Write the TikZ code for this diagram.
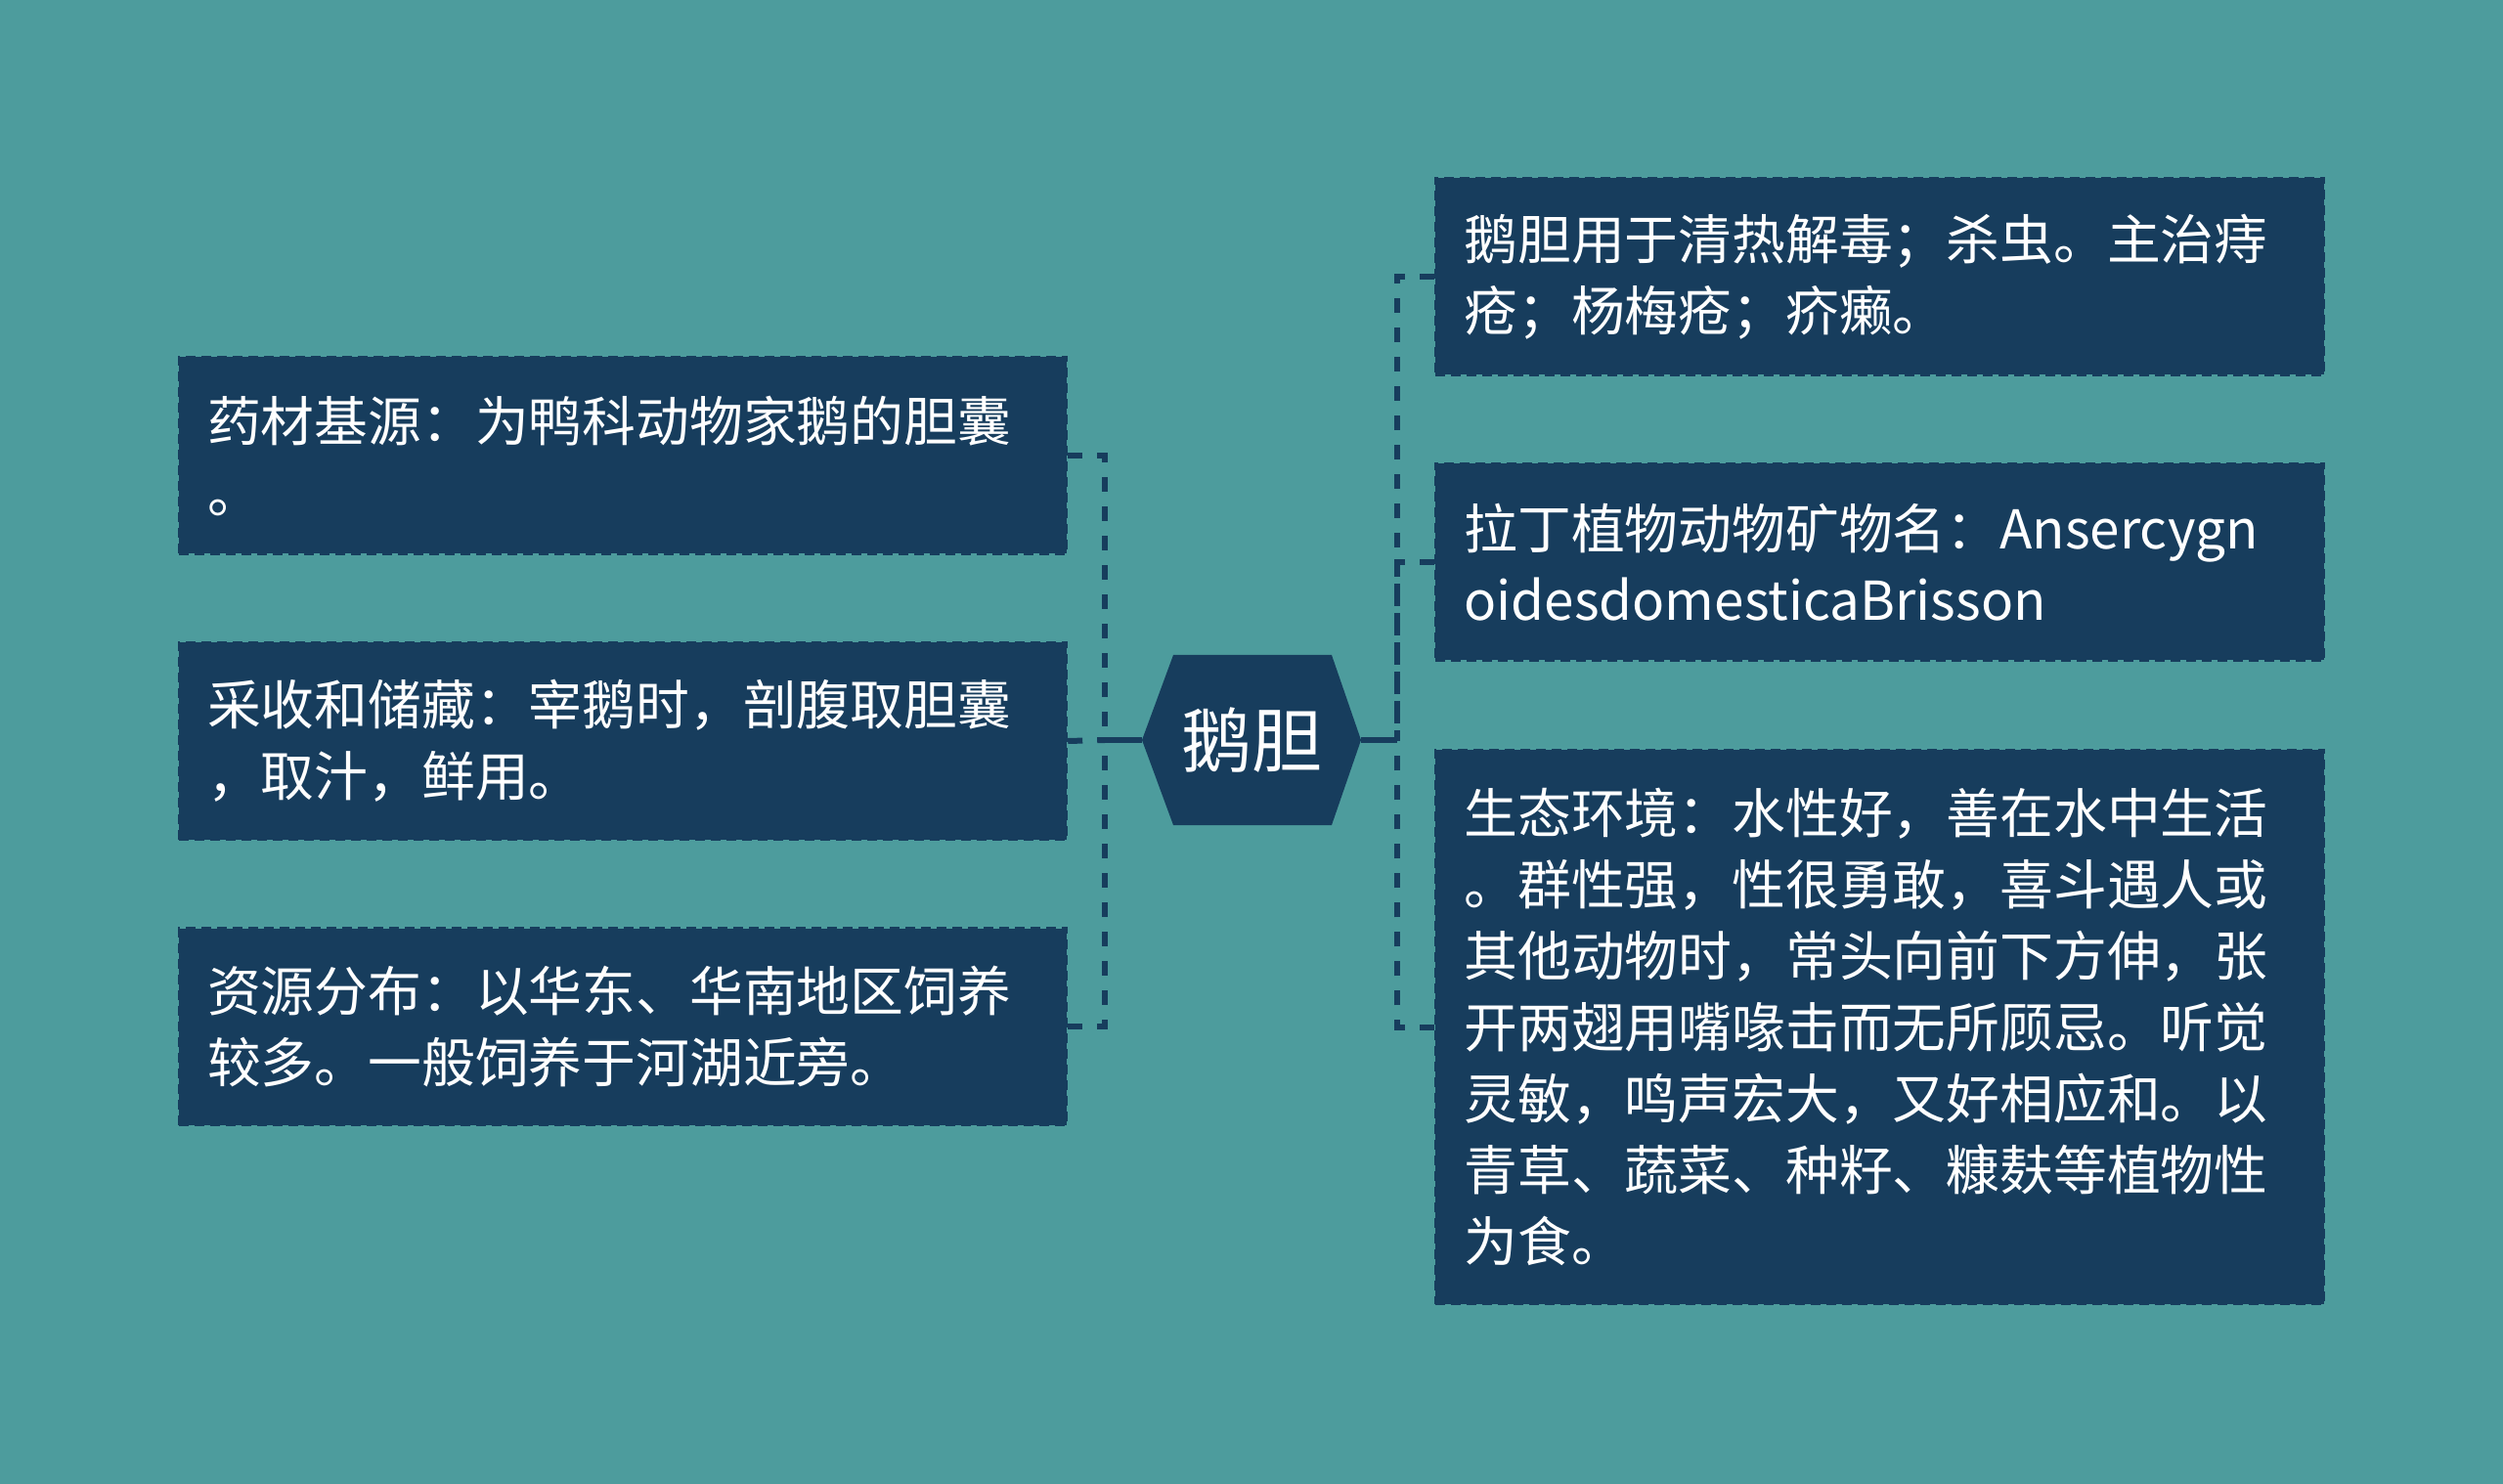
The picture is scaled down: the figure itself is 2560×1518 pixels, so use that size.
\documentclass[tikz,border=0pt]{standalone}
\usepackage{fontspec}
\setmainfont{Noto Sans CJK SC}
\definecolor{bgc}{RGB}{77,156,157}
\definecolor{boxc}{RGB}{23,61,93}
\begin{document}
\begin{tikzpicture}[x=0.5pt,y=-0.5pt,
  infobox/.style={rectangle, fill=boxc, draw=boxc, dashed, dash pattern=on 5pt off 3pt, line width=1.2pt,
    text=white, align=left, text width=425pt, inner xsep=14pt, inner ysep=0pt,
    font=\fontsize{27.4pt}{36.5pt}\selectfont},
  conn/.style={draw=boxc, line width=3pt, dash pattern=on 7.5pt off 7.5pt},
  solidconn/.style={draw=boxc, line width=3pt}]
\useasboundingbox[fill=bgc] (0,0) rectangle (2560,1518);
% center hexagon
\coordinate (hc) at (1280,757);
\fill[boxc] (1168,757) -- (1200,670) -- (1362,670) -- (1392,757) -- (1362,844) -- (1200,844) -- cycle;
\coordinate (hexW) at (1168,757);
\coordinate (hexE) at (1392,757);
\node[text=white, font=\fontsize{36pt}{40pt}\selectfont, inner sep=0pt] (center) at (hc) {鹅胆};
% left boxes
\node[infobox, minimum width=454pt, minimum height=100.5pt] (l1) at (637,466) {药材基源：为鸭科动物家鹅的胆囊\\。};
\node[infobox, minimum width=454pt, minimum height=100.5pt] (l2) at (637,758) {采收和储藏：宰鹅时，剖腹取胆囊\\，取汁，鲜用。};
\node[infobox, minimum width=454pt, minimum height=100.5pt] (l3) at (637,1050) {资源分布：以华东、华南地区饲养\\较多。一般饲养于河湖近旁。};
% right boxes
\node[infobox, minimum width=454.5pt, minimum height=100.5pt] (r1) at (1922.5,283) {鹅胆用于清热解毒；杀虫。主治痔\\疮；杨梅疮；疥癞。};
\node[infobox, minimum width=454.5pt, minimum height=100.5pt] (r2) at (1922.5,575) {拉丁植物动物矿物名：Ansercygn\\oidesdomesticaBrisson};
\node[infobox, minimum width=454.5pt, minimum height=283.5pt] (r3) at (1922.5,1050.5) {生态环境：水性好，善在水中生活\\。群性强，性很勇敢，喜斗遇人或\\其他动物时，常头向前下方伸，张\\开两翅用嘴喙击而无所顾忌。听觉\\灵敏，鸣声宏大，又好相应和。以\\青草、蔬菜、种籽、糠麸等植物性\\为食。};
% spines
\coordinate (lspine) at (1130,757);
\coordinate (rspine) at (1429,757);
% connectors
\draw[solidconn] (hexW) -- (lspine);
\draw[solidconn] (hexE) -- (rspine);
\draw[conn] (l1.east) -| (lspine);
\draw[conn] (l2.east) -- (lspine);
\draw[conn] (l3.east) -| (lspine);
\draw[conn] (r1.west) -| (rspine);
\draw[conn] (r2.west) -| (rspine);
\draw[conn] (r3.west) -| (rspine);
\end{tikzpicture}
\end{document}
